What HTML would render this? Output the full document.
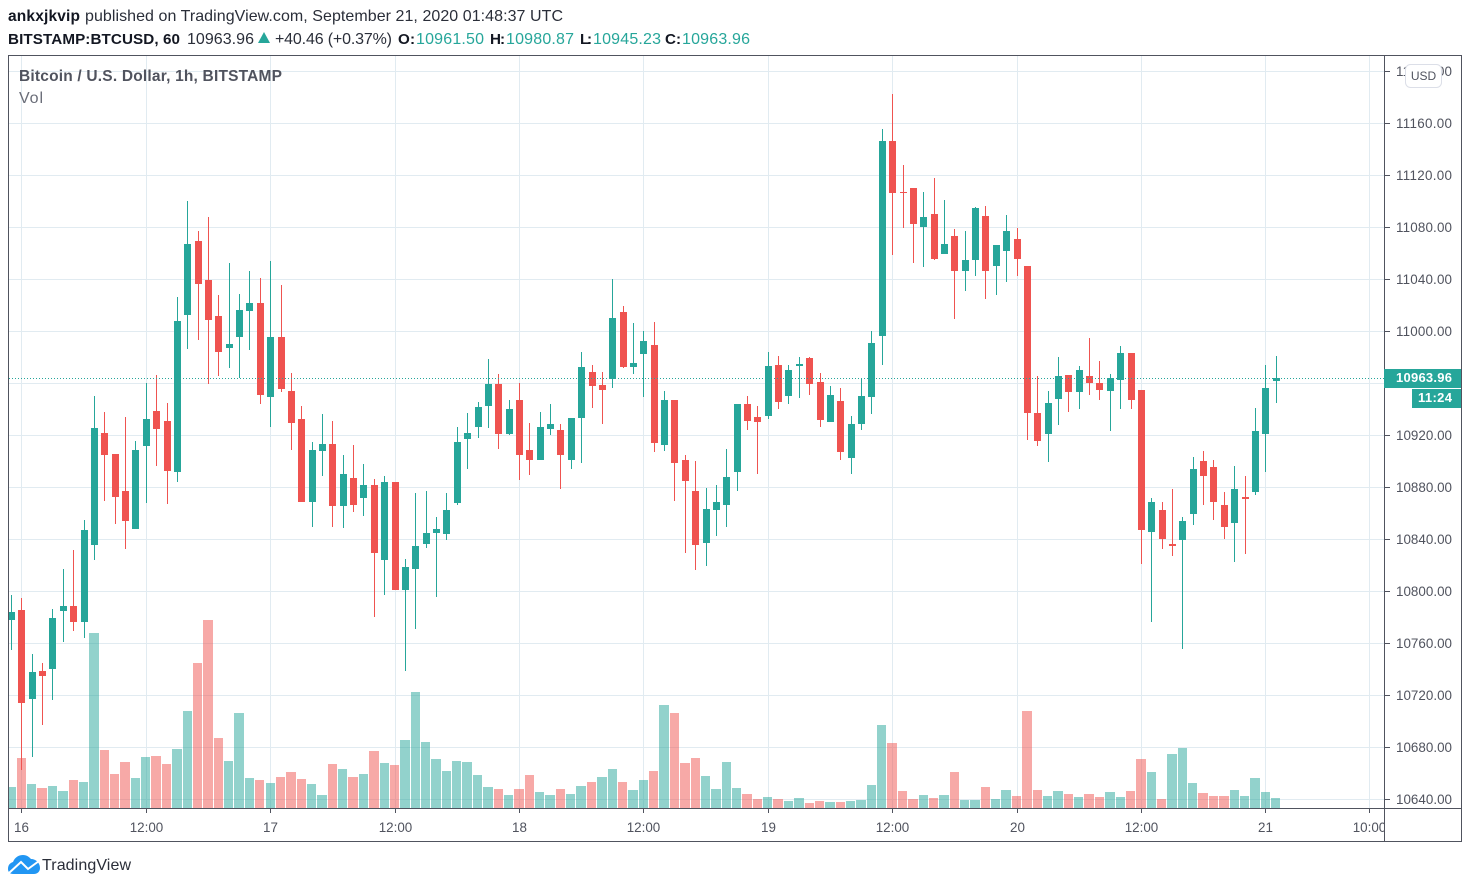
<!DOCTYPE html>
<html lang="en">
<head>
<meta charset="utf-8">
<title>BITSTAMP:BTCUSD, 60</title>
<style>
html,body{margin:0;padding:0;background:#fff;width:1470px;height:888px;overflow:hidden}
svg{display:block;font-family:"Liberation Sans",sans-serif}
</style>
</head>
<body>
<svg id="chart" width="1470" height="888" viewBox="0 0 1470 888" xmlns="http://www.w3.org/2000/svg">
  <defs>
    <clipPath id="pane-clip"><rect x="9" y="56" width="1375" height="752"/></clipPath>
    <clipPath id="time-clip"><rect x="9" y="809" width="1376" height="32"/></clipPath>
  </defs>
  <rect width="1470" height="888" fill="#fff"/>

  <g font-size="16" fill="#2a2e39">
    <text x="8" y="21" font-size="15.5" font-weight="bold" fill="#131722" textLength="72">ankxjkvip</text>
    <text x="85" y="21" textLength="478">published on TradingView.com, September 21, 2020 01:48:37 UTC</text>
  </g>

  <g font-size="16" fill="#2a2e39">
    <text x="8" y="44" font-size="15.2" font-weight="bold" fill="#131722" textLength="172">BITSTAMP:BTCUSD, 60</text>
    <text x="187" y="44" textLength="67">10963.96</text>
    <polygon points="258,43 264,32 270,43" fill="#26a69a"/>
    <text x="275" y="44" textLength="117">+40.46 (+0.37%)</text>
    <text x="398" y="44" font-size="15.2" font-weight="bold" fill="#131722" textLength="17">O:</text>
    <text x="416" y="44" fill="#26a69a" textLength="68">10961.50</text>
    <text x="490" y="44" font-size="15.2" font-weight="bold" fill="#131722" textLength="15">H:</text>
    <text x="506" y="44" fill="#26a69a" textLength="68">10980.87</text>
    <text x="580" y="44" font-size="15.2" font-weight="bold" fill="#131722" textLength="12">L:</text>
    <text x="593" y="44" fill="#26a69a" textLength="68">10945.23</text>
    <text x="665" y="44" font-size="15.2" font-weight="bold" fill="#131722" textLength="16">C:</text>
    <text x="682" y="44" fill="#26a69a" textLength="68">10963.96</text>
  </g>

  <g id="grid"></g>
  <g id="volume" clip-path="url(#pane-clip)"></g>
  <g id="candles" clip-path="url(#pane-clip)"></g>
  <g id="last-line"></g>

  <text x="19" y="81" font-size="15.5" font-weight="bold" fill="#50535e" textLength="263">Bitcoin / U.S. Dollar, 1h, BITSTAMP</text>
  <text x="19" y="103" font-size="16" fill="#6a6d78" textLength="24">Vol</text>

  <g id="price-axis"></g>
  <g id="time-axis"></g>

  <g fill="#50535e" shape-rendering="crispEdges">
    <rect x="8" y="55" width="1454" height="1"/>
    <rect x="8" y="841" width="1454" height="1"/>
    <rect x="8" y="55" width="1" height="787"/>
    <rect x="1461" y="55" width="1" height="787"/>
    <rect x="1384" y="55" width="1" height="787"/>
    <rect x="8" y="808" width="1454" height="1"/>
  </g>

  <g id="price-tags"></g>

  <g>
    <rect x="1405.5" y="64.5" width="36" height="23" rx="5" fill="#fff" stroke="#dcdfe8"/>
    <text x="1423.5" y="80" font-size="12" text-anchor="middle" fill="#50535e">USD</text>
  </g>

  <g>
    <path fill="#2196f3" d="M8 869C8 865 10 863 13 862C15 857 19 855 23 855C27 855 29 857 31 859C36 859 40 863 40 868C40 872 37 874 34 874H13C10 874 8 872 8 869Z"/>
    <polyline points="9,873 21,862 28,869 39,861" fill="none" stroke="#fff" stroke-width="2"/>
    <text x="42" y="870" font-size="16" fill="#2a2e39" textLength="89">TradingView</text>
  </g>
</svg>

<script>
const opens = [
10777.9,10785.6,10717.2,10738.7,10740.2,10784.8,10788.7,10776.4,10835.6,10921.8,
10905.7,10877.1,10847.9,10911.8,10938.7,10931.0,10891.8,11012.6,11069.5,11039.5,
11011.8,10987.2,10995.6,11015.6,11021.8,10949.5,10995.6,10954.1,10932.6,10868.7,
10907.9,10913.4,10865.6,10887.2,10871.8,10881.7,10824.0,10884.0,10801.0,10817.1,
10836.3,10844.8,10844.0,10867.9,10917.2,10926.5,10942.6,10959.5,10921.0,10947.2,
10908.7,10901.0,10924.9,10924.1,10901.0,10933.4,10968.7,10958.7,10963.4,11014.9,
10972.5,10982.5,10989.5,10912.6,10947.2,10901.0,10877.1,10837.1,10862.5,10866.4,
10891.8,10944.1,10934.1,10934.9,10974.1,10950.3,10973.3,10979.4,10961.0,10930.2,
10946.4,10902.6,10928.7,10949.5,10996.4,11146.4,11107.2,11110.3,11080.3,11090.2,
11059.4,11073.3,11046.4,11054.8,11088.7,11050.3,11061.7,11071.0,11050.3,10937.2,
10921.0,10948.0,10966.4,10953.4,10965.6,10960.3,10954.1,10962.6,10983.3,10954.9,
10845.6,10862.5,10836.3,10839.4,10859.4,10900.3,10895.6,10866.4,10852.5,10872.5,
10876.3,10921.0,10961.5];
const highs = [
10797.1,10794.8,10751.7,10744.8,10786.4,10817.1,10831.7,10854.8,10950.3,10938.0,
10905.7,10934.1,10915.7,10960.3,10966.4,10944.9,11026.4,11100.2,11077.2,11087.9,
11027.9,11052.5,11028.7,11046.4,11041.0,11054.1,11035.6,10968.1,10942.6,10915.2,
10936.4,10931.0,10905.0,10912.6,10898.1,10886.3,10888.7,10884.0,10824.8,10875.6,
10877.1,10857.1,10875.6,10926.5,10937.2,10945.7,10978.7,10967.3,10947.2,10960.3,
10929.5,10938.0,10944.1,10928.7,10933.4,10984.1,10974.1,10968.7,11040.3,11019.4,
11006.3,11000.3,11007.2,10954.1,10947.2,10905.0,10900.3,10879.4,10881.7,10909.5,
10944.1,10950.3,10942.6,10984.1,10981.0,10974.1,10980.2,10980.2,10967.9,10958.0,
10956.4,10934.9,10964.1,11000.3,11155.6,11182.5,11128.0,11110.3,11107.2,11117.9,
11101.0,11078.7,11077.2,11095.6,11096.4,11066.4,11089.5,11079.5,11050.3,10965.6,
10954.1,10980.2,10966.4,10973.3,10994.9,10977.2,10967.3,10988.7,10983.3,10954.9,
10871.8,10868.7,10878.7,10857.1,10903.4,10908.0,10901.0,10876.3,10896.4,10888.9,
10941.0,10974.1,10980.87];
const lows = [
10754.8,10662.6,10672.5,10697.2,10716.4,10761.0,10769.5,10764.1,10824.0,10869.4,
10851.7,10832.5,10847.9,10867.9,10896.4,10867.1,10884.0,10986.4,10993.3,10959.5,
10965.6,10971.8,10964.1,10985.6,10944.1,10926.5,10953.5,10908.7,10868.7,10849.2,
10888.7,10849.2,10848.5,10861.0,10857.9,10780.2,10797.1,10801.0,10738.7,10771.0,
10833.2,10795.6,10839.4,10866.4,10894.1,10918.0,10925.7,10909.5,10920.3,10885.6,
10889.5,10901.0,10920.3,10878.7,10894.1,10898.8,10941.0,10928.7,10956.6,10971.8,
10967.2,10949.5,10907.2,10907.9,10869.4,10829.4,10816.4,10819.5,10842.5,10849.2,
10877.1,10924.1,10890.2,10932.6,10940.3,10944.1,10948.7,10951.1,10926.5,10930.2,
10901.0,10890.2,10924.1,10936.4,10974.1,11058.7,11079.5,11052.5,11049.5,11054.9,
11059.4,11009.5,11031.0,11042.5,11024.9,11027.9,11037.9,11042.6,10916.4,10911.8,
10899.6,10928.0,10938.0,10940.3,10951.1,10947.2,10923.6,10940.3,10940.3,10821.0,
10776.4,10832.5,10827.2,10755.6,10851.0,10866.4,10854.8,10840.2,10822.5,10828.7,
10874.0,10891.4,10945.23];
const closes = [
10784.1,10714.1,10738.0,10734.8,10779.5,10788.7,10776.4,10847.1,10925.7,10904.9,
10872.5,10854.0,10908.7,10932.6,10924.9,10892.6,11007.9,11067.2,11036.4,11008.7,
10984.1,10990.3,11016.4,11021.8,10951.1,10995.6,10955.8,10929.5,10868.7,10908.7,
10913.5,10865.6,10890.2,10866.4,10881.7,10829.4,10884.0,10801.0,10818.7,10834.8,
10844.8,10847.9,10862.5,10915.2,10921.8,10941.8,10959.5,10921.0,10940.3,10905.0,
10901.0,10926.5,10928.7,10905.0,10933.4,10972.5,10958.0,10954.9,11010.2,10972.5,
10975.6,10992.6,10914.1,10947.2,10898.8,10885.1,10835.6,10863.4,10868.7,10887.9,
10944.1,10931.0,10930.2,10973.3,10945.7,10970.3,10974.8,10959.5,10931.8,10951.1,
10907.2,10928.7,10950.3,10991.0,11146.4,11106.4,11106.4,11082.5,11087.9,11055.6,
11067.2,11046.4,11054.8,11094.8,11046.4,11066.4,11077.2,11055.6,10937.2,10915.7,
10944.9,10965.6,10953.4,10970.3,10960.3,10954.9,10964.1,10983.3,10947.2,10847.1,
10868.7,10840.2,10834.8,10854.0,10894.1,10888.9,10868.7,10849.2,10878.7,10871.0,
10923.6,10956.6,10963.96];
const volumes = [
210,500,240,200,220,170,280,260,1750,580,
340,460,300,510,520,440,590,970,1450,1880,
700,470,950,300,280,250,310,360,290,240,
130,440,390,310,340,570,450,430,680,1160,
660,490,370,470,460,330,210,190,130,190,
330,160,130,190,140,220,260,310,390,260,
180,280,370,1030,950,450,500,320,190,460,
200,140,90,110,90,70,100,50,70,60,
60,70,80,230,830,650,170,90,130,100,
130,360,80,80,210,90,180,120,970,180,
120,170,140,110,140,110,160,110,170,490,
360,90,540,600,250,150,120,120,180,120,
300,160,100];
const volumeUpOnDownCandles = [57, 112, 119];
const priceTicks = [11200,11160,11120,11080,11040,11000,10960,10920,10880,10840,10800,10760,10720,10680,10640];
const timeTickHours = [0,12,24,36,48,60,72,84,96,108,120,130];
const timeTickLabels = ["16","12:00","17","12:00","18","12:00","19","12:00","20","12:00","21","10:00"];
const lastPrice = 10963.96;
const countdownLabel = "11:24";

const firstBarHour = -1;
const xScale = hour => 21.4 + 10.366 * hour;
const yScale = price => 331.3 - (price - 11000) * 1.3;
const volScale = vol => vol * 0.1;
const VOL_BASE = 808;
const UP = "#26a69a", DOWN = "#ef5350";
const SVGNS = "http://www.w3.org/2000/svg";

function mk(parent, tag, attrs, text) {
  const el = document.createElementNS(SVGNS, tag);
  for (const k in attrs) el.setAttribute(k, attrs[k]);
  if (text !== undefined) el.textContent = text;
  parent.appendChild(el);
  return el;
}
const gridG = document.getElementById("grid");
const volG = document.getElementById("volume");
const candleG = document.getElementById("candles");
const priceG = document.getElementById("price-axis");
const timeG = document.getElementById("time-axis");
const lastG = document.getElementById("last-line");
const tagG = document.getElementById("price-tags");

priceTicks.forEach(p => {
  const y = Math.floor(yScale(p));
  const line = mk(gridG, "rect", {x: 9, y: y, width: 1375, height: 1, fill: "#e1ebf1", "shape-rendering": "crispEdges"});
  
  
  const tick = mk(priceG, "rect", {x: 1385, y: y, width: 5, height: 1, fill: "#50535e", "shape-rendering": "crispEdges"});
  
  
  const label = mk(priceG, "text", {x: 1396, y: y + 5, "font-size": 13.4, fill: "#50535e", textLength: 56}, p.toFixed(2));
  
  
});

timeTickHours.forEach((h, k) => {
  const x = Math.round(xScale(h));
  const line = mk(gridG, "rect", {x: x, y: 56, width: 1, height: 752, fill: "#e1ebf1", "shape-rendering": "crispEdges"});
  
  
  const tick = mk(timeG, "rect", {x: x, y: 809, width: 1, height: 4, fill: "#50535e", "shape-rendering": "crispEdges"});
  
  
  const label = mk(timeG, "text", {x: x + 0.5, y: 832, "font-size": 13.4, "text-anchor": "middle", fill: "#50535e", "clip-path": "url(#time-clip)"}, timeTickLabels[k]);
  
  
});

opens.forEach((o, i) => {
  const c = closes[i], h = highs[i], l = lows[i];
  const hour = firstBarHour + i;
  const cx = xScale(hour);
  const px = Math.round(cx);
  const up = c >= o;
  const volUp = up || volumeUpOnDownCandles.includes(i);
  const left = Math.ceil(cx - 5.18), right = Math.floor(cx + 5.18);
  const vh = Math.round(volScale(volumes[i]));
  const vbar = mk(volG, "rect", {x: left, y: VOL_BASE - vh, width: right - left, height: vh, fill: volUp ? UP : DOWN, "fill-opacity": 0.5, "shape-rendering": "crispEdges"});
  
  

  const color = up ? UP : DOWN;
  const wickTop = Math.round(yScale(h)), wickBottom = Math.round(yScale(l));
  const wick = mk(candleG, "rect", {x: px, y: wickTop, width: 1, height: Math.max(1, wickBottom - wickTop), fill: color, "shape-rendering": "crispEdges"});
  
  
  const top = Math.round(yScale(Math.max(o, c))), bottom = Math.round(yScale(Math.min(o, c)));
  const body = mk(candleG, "rect", {x: px - 3, y: top, width: 7, height: Math.max(1, bottom - top), fill: color, "shape-rendering": "crispEdges"});
  
  
});

const lastY = Math.floor(yScale(lastPrice));
const dotted = mk(lastG, "line", {x1: 9, y1: lastY + 0.5, x2: 1384, y2: lastY + 0.5, stroke: UP, "stroke-width": 1, "stroke-dasharray": "1 2"});



const priceTag = mk(tagG, "rect", {x: 1384, y: lastY - 9, width: 77, height: 19, fill: UP, "shape-rendering": "crispEdges"});


const priceTagText = mk(tagG, "text", {x: 1396, y: lastY + 4, "font-size": 13, "font-weight": "bold", fill: "#fff", textLength: 56}, lastPrice.toFixed(2));


const countTag = mk(tagG, "rect", {x: 1412, y: lastY + 11, width: 49, height: 19, fill: UP, "shape-rendering": "crispEdges"});


const countText = mk(tagG, "text", {x: 1418, y: lastY + 24, "font-size": 13, "font-weight": "bold", fill: "#fff", textLength: 34}, countdownLabel);


</script>
</body>
</html>
